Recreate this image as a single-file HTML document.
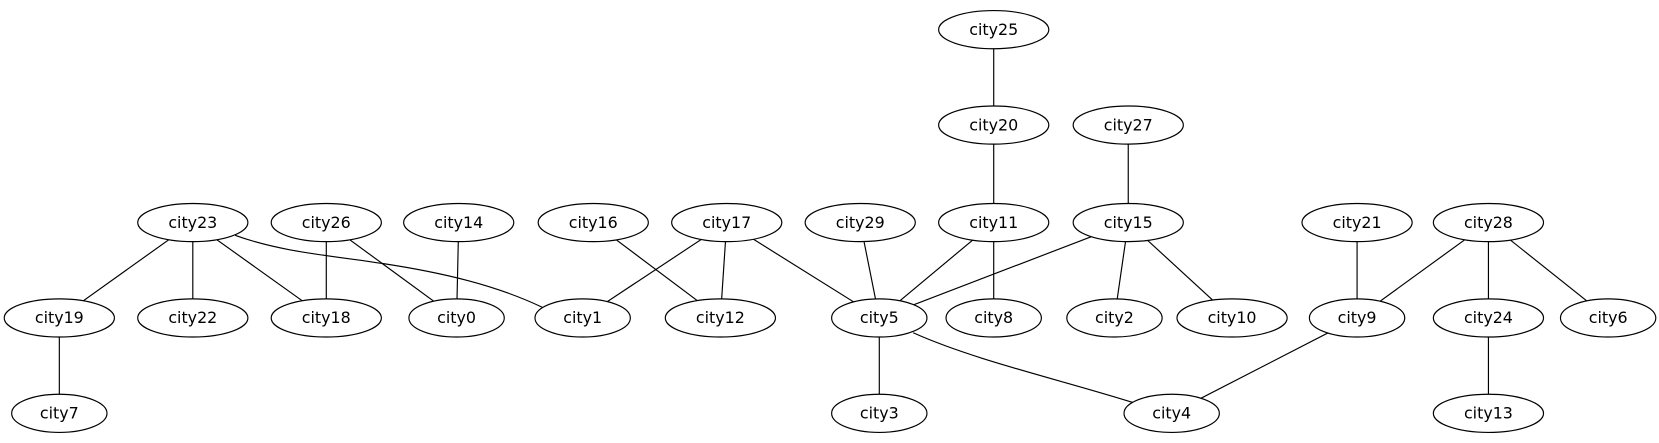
<!DOCTYPE html>
<html><head><style>html,body{margin:0;padding:0;background:#fff}svg{display:block}</style></head><body>
<svg width="1659" height="443" viewBox="0 0 1566 418" preserveAspectRatio="none" xmlns="http://www.w3.org/2000/svg">
<g stroke="#000" stroke-width="1.1" fill="none">
<line x1="938" y1="28" x2="938" y2="118"/>
<line x1="938" y1="118" x2="938" y2="210"/>
<line x1="1065" y1="118" x2="1065" y2="210"/>
<line x1="182" y1="210" x2="56" y2="300"/>
<line x1="182" y1="210" x2="182" y2="300"/>
<line x1="182" y1="210" x2="308" y2="300"/>
<path d="M222,222 C260,236 300,240 350,247 C420,257 470,270 512,290"/>
<line x1="308" y1="210" x2="308" y2="300"/>
<line x1="308" y1="210" x2="431" y2="300"/>
<line x1="433" y1="210" x2="431" y2="300"/>
<line x1="560" y1="210" x2="680" y2="300"/>
<line x1="686" y1="210" x2="550" y2="300"/>
<line x1="686" y1="210" x2="680" y2="300"/>
<line x1="686" y1="210" x2="830" y2="300"/>
<line x1="812" y1="210" x2="830" y2="300"/>
<line x1="938" y1="210" x2="830" y2="300"/>
<line x1="938" y1="210" x2="938" y2="300"/>
<line x1="1065" y1="210" x2="830" y2="300"/>
<line x1="1065" y1="210" x2="1052" y2="300"/>
<line x1="1065" y1="210" x2="1163" y2="300"/>
<line x1="1281" y1="210" x2="1281" y2="300"/>
<line x1="1405" y1="210" x2="1281" y2="300"/>
<line x1="1405" y1="210" x2="1405" y2="300"/>
<line x1="1405" y1="210" x2="1518" y2="300"/>
<line x1="56" y1="300" x2="56" y2="390"/>
<line x1="830" y1="300" x2="830" y2="390"/>
<path d="M862,314 C920,340 1000,358 1070,380"/>
<line x1="1281" y1="300" x2="1106" y2="390"/>
<line x1="1405" y1="300" x2="1405" y2="390"/>
</g>
<g stroke="#000" stroke-width="1.1" fill="#fff">
<ellipse cx="938" cy="28" rx="52" ry="18"/>
<ellipse cx="938" cy="118" rx="52" ry="18"/>
<ellipse cx="1065" cy="118" rx="52" ry="18"/>
<ellipse cx="182" cy="210" rx="52" ry="18"/>
<ellipse cx="308" cy="210" rx="52" ry="18"/>
<ellipse cx="433" cy="210" rx="52" ry="18"/>
<ellipse cx="560" cy="210" rx="52" ry="18"/>
<ellipse cx="686" cy="210" rx="52" ry="18"/>
<ellipse cx="812" cy="210" rx="52" ry="18"/>
<ellipse cx="938" cy="210" rx="52" ry="18"/>
<ellipse cx="1065" cy="210" rx="52" ry="18"/>
<ellipse cx="1281" cy="210" rx="52" ry="18"/>
<ellipse cx="1405" cy="210" rx="52" ry="18"/>
<ellipse cx="56" cy="300" rx="52" ry="18"/>
<ellipse cx="182" cy="300" rx="52" ry="18"/>
<ellipse cx="308" cy="300" rx="52" ry="18"/>
<ellipse cx="431" cy="300" rx="45" ry="18"/>
<ellipse cx="550" cy="300" rx="45" ry="18"/>
<ellipse cx="680" cy="300" rx="52" ry="18"/>
<ellipse cx="830" cy="300" rx="45" ry="18"/>
<ellipse cx="938" cy="300" rx="45" ry="18"/>
<ellipse cx="1052" cy="300" rx="45" ry="18"/>
<ellipse cx="1163" cy="300" rx="52" ry="18"/>
<ellipse cx="1281" cy="300" rx="45" ry="18"/>
<ellipse cx="1405" cy="300" rx="52" ry="18"/>
<ellipse cx="1518" cy="300" rx="45" ry="18"/>
<ellipse cx="56" cy="390" rx="45" ry="18"/>
<ellipse cx="830" cy="390" rx="45" ry="18"/>
<ellipse cx="1106" cy="390" rx="45" ry="18"/>
<ellipse cx="1405" cy="390" rx="52" ry="18"/>
</g>
<g font-family="'DejaVu Sans','Liberation Sans',sans-serif" font-size="15" text-anchor="middle" fill="#000">
<text x="938" y="33">city25</text>
<text x="938" y="123">city20</text>
<text x="1065" y="123">city27</text>
<text x="182" y="215">city23</text>
<text x="308" y="215">city26</text>
<text x="433" y="215">city14</text>
<text x="560" y="215">city16</text>
<text x="686" y="215">city17</text>
<text x="812" y="215">city29</text>
<text x="938" y="215">city11</text>
<text x="1065" y="215">city15</text>
<text x="1281" y="215">city21</text>
<text x="1405" y="215">city28</text>
<text x="56" y="305">city19</text>
<text x="182" y="305">city22</text>
<text x="308" y="305">city18</text>
<text x="431" y="305">city0</text>
<text x="550" y="305">city1</text>
<text x="680" y="305">city12</text>
<text x="830" y="305">city5</text>
<text x="938" y="305">city8</text>
<text x="1052" y="305">city2</text>
<text x="1163" y="305">city10</text>
<text x="1281" y="305">city9</text>
<text x="1405" y="305">city24</text>
<text x="1518" y="305">city6</text>
<text x="56" y="395">city7</text>
<text x="830" y="395">city3</text>
<text x="1106" y="395">city4</text>
<text x="1405" y="395">city13</text>
</g>
</svg>
</body></html>
